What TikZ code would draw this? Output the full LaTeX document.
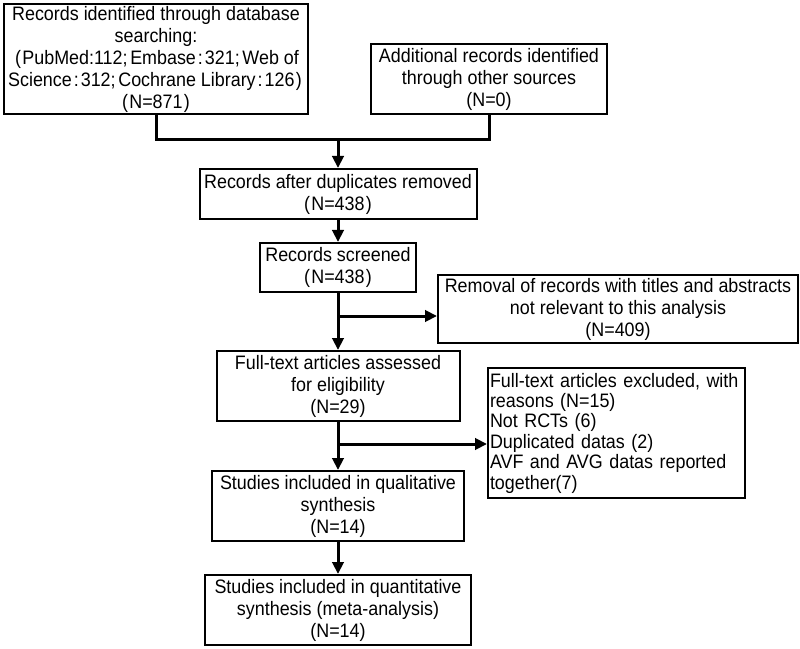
\documentclass[tikz,border=0pt]{standalone}
\usepackage{fontspec}
\setmainfont[FakeStretch=0.92]{Liberation Sans}
\usepackage{tikz}
\usetikzlibrary{calc,arrows.meta}
\newcommand{\lp}{\kern1.5pt(\kern1pt}
\newcommand{\rp}{\kern1pt)\kern1.5pt}
\newcommand{\sm}{;\kern2pt}
\newcommand{\cl}{\kern1.5pt:\kern1.5pt}

\begin{document}
\begin{tikzpicture}[x=0.75pt,y=-0.75pt]
        \tikzstyle{every node}=[draw,line width=1.5pt,align=center,inner xsep=1pt,inner ysep=0pt,font=\fontsize{14.6}{16.5}\selectfont]
        \tikzstyle{arr}=[line width=2.25pt,-{Triangle[length=9pt,width=8.5pt]}]
        \tikzstyle{line}=[line width=2.25pt]
        \useasboundingbox (0,0) rectangle (800,649);
        \node[minimum width=228pt,minimum height=82.5pt] (db) at (156,59) {Records identified through database\\ searching:\\ \lp PubMed:112\sm Embase\cl 321\sm Web of\\ Science\cl 312\sm Cochrane Library\cl 126\rp\\ \lp N=871\rp};
        \node[minimum width=177pt,minimum height=52.5pt] (other) at (489,79) {Additional records identified\\ through other sources\\ (N=0)};
        \node[minimum width=207.75pt,minimum height=37.5pt] (dup) at (338,194) {Records after duplicates removed\\ \lp N=438\rp};
        \node[minimum width=117pt,minimum height=36.75pt] (screen) at (338,267.5) {Records screened\\ \lp N=438\rp};
        \node[minimum width=270pt,minimum height=51pt] (removal) at (618,309) {Removal of records with titles and abstracts\\ not relevant to this analysis\\ (N=409)};
        \node[minimum width=182.25pt,minimum height=52.5pt] (full) at (338,386) {Full-text articles assessed\\ for eligibility\\ (N=29)};
        \node[text width=189.75pt,inner xsep=1.5pt,minimum height=97.5pt,align=left,font=\fontsize{14.6}{15.3}\selectfont] (excl) at (616.5,433) {Full-text articles excluded, with\\ reasons (N=15)\\ Not RCTs (6)\\ Duplicated datas (2)\\ AVF and AVG datas reported\\ together(7)};
        \node[minimum width=189pt,minimum height=52.5pt] (qual) at (338,506) {Studies included in qualitative\\ synthesis\\ (N=14)};
        \node[minimum width=199.5pt,minimum height=52.5pt] (quant) at (338,610) {Studies included in quantitative\\ synthesis (meta-analysis)\\ (N=14)};
        % Joins and side branches
        \coordinate (j) at (338,140);
        \coordinate (s1) at (338,316);
        \coordinate (s2) at (338,444);
        \draw[line] (db.south) |- (j);
        \draw[line] (other.south) |- (j);
        \draw[arr] (j)--(dup);
        \draw[arr] (dup)--(screen);
        \draw[arr] (screen)--(full);
        \draw[arr] (s1)--(removal.west |- s1);
        \draw[arr] (full)--(qual);
        \draw[arr] (s2)--(excl.west |- s2);
        \draw[arr] (qual)--(quant);
    \end{tikzpicture}
\end{document}
